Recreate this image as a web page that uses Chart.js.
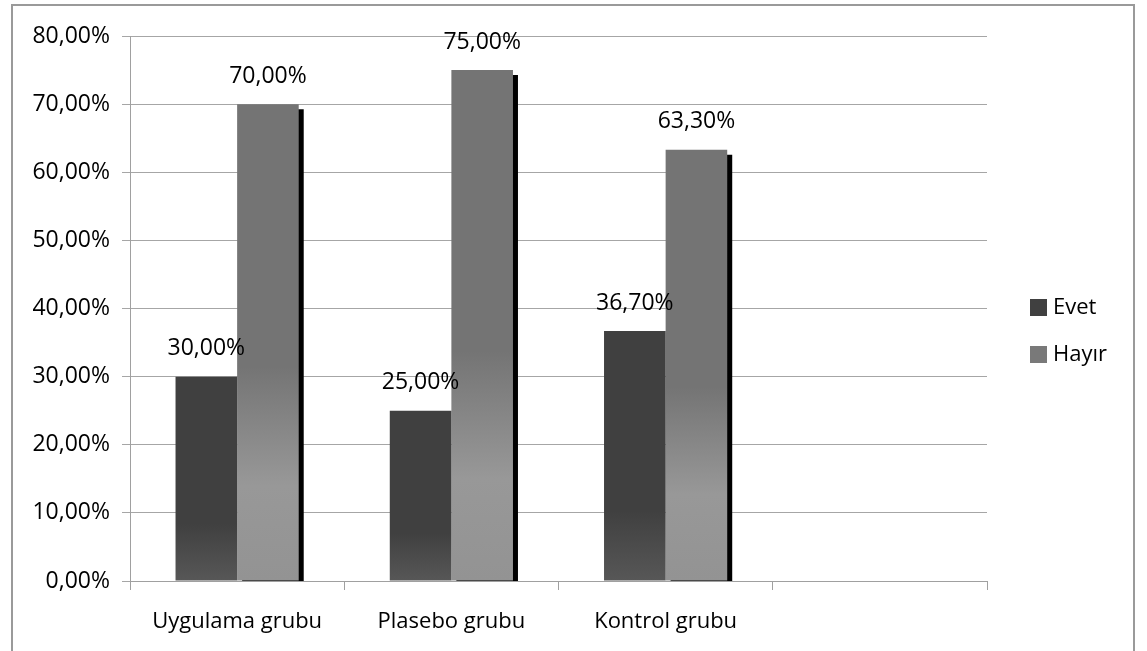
<!DOCTYPE html>
<html>
<head>
<meta charset="utf-8">
<script src="https://cdn.jsdelivr.net/npm/chart.js@4.4.0/dist/chart.umd.min.js"></script>
<style>
  html, body { margin: 0; padding: 0; background: #fff; }
  #wrap { position: relative; width: 1147px; height: 651px; overflow: hidden; }
  #frame { position: absolute; left: 11px; top: 4px; width: 1124px; height: 700px;
           border: 2px solid #9a9a9a; box-sizing: border-box; }
  canvas { position: absolute; left: 0; top: 0; }
</style>
</head>
<body>
<div id="wrap">
  <div id="frame"></div>
  <canvas id="grafico" width="1147" height="651"></canvas>
</div>
<script>
const categorias = ['Uygulama grubu', 'Plasebo grubu', 'Kontrol grubu', ''];
const evet = [30.0, 25.0, 36.7, null];
const hayir = [70.0, 75.0, 63.3, null];
const seriesNames = ['Evet', 'Hayır'];
const yTicks = [0, 10, 20, 30, 40, 50, 60, 70, 80];

const FONT = 'Open Sans';
const fmt = v => v.toFixed(2).replace('.', ',') + '%';

// gradient per bar, from its top to the axis
function barGradient(stops) {
  return (c) => {
    const chart = c.chart;
    if (!chart.chartArea || c.raw == null) return stops[0][1];
    const y = chart.scales.y;
    const top = y.getPixelForValue(c.raw);
    const bottom = y.getPixelForValue(0);
    const g = chart.ctx.createLinearGradient(0, top, 0, bottom);
    stops.forEach(([o, col]) => g.addColorStop(o, col));
    return g;
  };
}

const shadowPlugin = {
  id: 'sombra',
  beforeDatasetDraw(chart, args) {
    if (args.index !== 1) return;
    const ctx = chart.ctx;
    ctx.save();
    ctx.shadowColor = '#000';
    ctx.shadowOffsetX = 5;
    ctx.shadowOffsetY = 5;
    ctx.shadowBlur = 0;
  },
  afterDatasetDraw(chart, args) {
    if (args.index !== 1) return;
    chart.ctx.restore();
  }
};

const labelsPlugin = {
  id: 'rotulos',
  afterDatasetsDraw(chart) {
    const ctx = chart.ctx;
    ctx.save();
    ctx.font = '23px "' + FONT + '"';
    ctx.fillStyle = '#000';
    ctx.textAlign = 'center';
    ctx.textBaseline = 'middle';
    chart.data.datasets.forEach((ds, i) => {
      chart.getDatasetMeta(i).data.forEach((bar, j) => {
        if (ds.data[j] == null) return;
        ctx.fillText(fmt(ds.data[j]), bar.x, bar.y - 28);
      });
    });
    ctx.restore();
  }
};

const legendPlugin = {
  id: 'legenda',
  afterDraw(chart) {
    const ctx = chart.ctx;
    ctx.save();
    ctx.font = '22px "' + FONT + '"';
    ctx.textBaseline = 'middle';
    const legendX = 1030;
    const rows = [307, 354];
    chart.data.datasets.forEach((ds, i) => {
      ctx.fillStyle = ds.legendColor;
      ctx.fillRect(legendX, rows[i] - 8, 17, 17);
      ctx.fillStyle = '#000';
      ctx.fillText(ds.label, legendX + 23, rows[i] + 1);
    });
    ctx.restore();
  }
};

new Chart(document.getElementById('grafico'), {
  type: 'bar',
  data: {
    labels: categorias,
    datasets: [
      {
        label: seriesNames[0],
        data: evet,
        legendColor: '#404040',
        backgroundColor: barGradient([[0, '#404040'], [0.72, '#404040'], [1, '#575757']]),
        clip: 0
      },
      {
        label: seriesNames[1],
        data: hayir,
        legendColor: '#797979',
        backgroundColor: barGradient([[0, '#747474'], [0.55, '#747474'], [0.8, '#989898'], [1, '#939393']]),
        clip: 0
      }
    ]
  },
  options: {
    responsive: false,
    animation: false,
    events: [],
    categoryPercentage: 0.575,
    barPercentage: 1,
    layout: { padding: { left: 0, top: 36, right: 160, bottom: 0 } },
    plugins: {
      legend: { display: false },
      tooltip: { enabled: false }
    },
    scales: {
      x: {
        afterFit: s => { s.height = 70; },
        grid: {
          drawOnChartArea: false,
          drawTicks: true,
          tickLength: 9,
          color: '#a0a0a0',
          offset: true
        },
        border: { color: '#a0a0a0', width: 1 },
        ticks: {
          padding: 19,
          color: '#000',
          font: { family: FONT, size: 22 },
          maxRotation: 0
        }
      },
      y: {
        min: 0,
        max: 80,
        afterFit: s => { s.width = 130; },
        afterBuildTicks: s => { s.ticks = yTicks.map(v => ({ value: v })); },
        grid: { color: '#a6a6a6', tickLength: 8, lineWidth: 1 },
        border: { color: '#a0a0a0', width: 1 },
        ticks: {
          padding: 12,
          color: '#000',
          font: { family: FONT, size: 23 },
          callback: v => fmt(v)
        }
      }
    }
  },
  plugins: [shadowPlugin, labelsPlugin, legendPlugin]
});
</script>
</body>
</html>
